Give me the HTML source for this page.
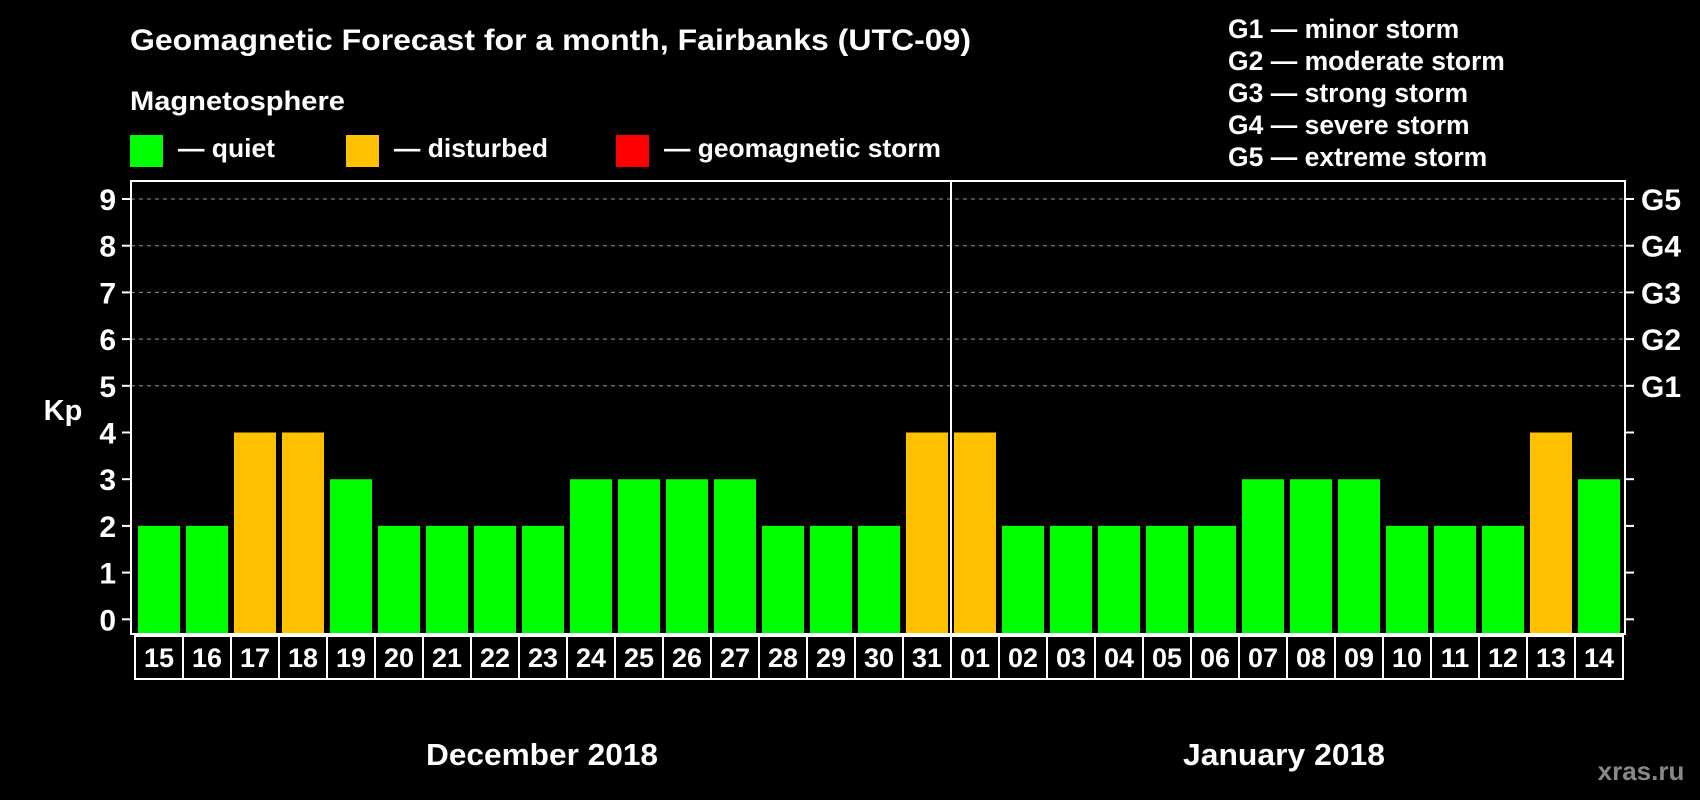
<!DOCTYPE html>
<html><head><meta charset="utf-8"><style>
html,body{margin:0;padding:0;background:#000;}
svg{display:block;font-family:"Liberation Sans",Arial,sans-serif;font-weight:bold;}
</style></head><body>
<svg id="chart" width="1700" height="800" viewBox="0 0 1700 800">
<rect x="0" y="0" width="1700" height="800" fill="#000"/>
<text x="130" y="50" fill="#fff" font-size="30" textLength="841" lengthAdjust="spacingAndGlyphs">Geomagnetic Forecast for a month, Fairbanks (UTC-09)</text>
<text x="130" y="110" fill="#fff" font-size="27" textLength="215" lengthAdjust="spacingAndGlyphs">Magnetosphere</text>
<g><rect x="130" y="135" width="33" height="32" fill="#00ff00"/><text x="178" y="157" fill="#fff" font-size="26" textLength="97" lengthAdjust="spacingAndGlyphs">— quiet</text></g>
<g><rect x="346" y="135" width="33" height="32" fill="#ffc000"/><text x="394" y="157" fill="#fff" font-size="26" textLength="154" lengthAdjust="spacingAndGlyphs">— disturbed</text></g>
<g><rect x="616" y="135" width="33" height="32" fill="#ff0000"/><text x="664" y="157" fill="#fff" font-size="26" textLength="277" lengthAdjust="spacingAndGlyphs">— geomagnetic storm</text></g>
<g fill="#fff" font-size="26.5">
<text x="1228" y="38">G1 — minor storm</text>
<text x="1228" y="70">G2 — moderate storm</text>
<text x="1228" y="102">G3 — strong storm</text>
<text x="1228" y="134">G4 — severe storm</text>
<text x="1228" y="166">G5 — extreme storm</text>
</g>
<text x="63" y="420" fill="#fff" font-size="29" text-anchor="middle">Kp</text>
<g id="grid"></g>
<g id="bars"></g>
<g id="axes"></g>
<g id="dates"></g>
<text x="542" y="765" fill="#fff" font-size="31" text-anchor="middle" textLength="232" lengthAdjust="spacingAndGlyphs">December 2018</text>
<text x="1284" y="765" fill="#fff" font-size="31" text-anchor="middle" textLength="202" lengthAdjust="spacingAndGlyphs">January 2018</text>
<text x="1641" y="780" fill="#888" font-size="26" text-anchor="middle">xras.ru</text>
</svg>
<script>
const days = ["15","16","17","18","19","20","21","22","23","24","25","26","27","28","29","30","31","01","02","03","04","05","06","07","08","09","10","11","12","13","14"];
const kpValues = [2,2,4,4,3,2,2,2,2,3,3,3,3,2,2,2,4,4,2,2,2,2,2,3,3,3,2,2,2,4,3];
const yTicks = [0,1,2,3,4,5,6,7,8,9];
const gLabels = ["G1","G2","G3","G4","G5"];
const gLevels = [5,6,7,8,9];

const NS = "http://www.w3.org/2000/svg";
const L = 131, R = 1625, T = 181, B = 634;
const slot = 48, barW = 42, x0 = 138;
function yS(v){ return 619.3 - v * 46.7; }
function xS(i){ return x0 + i * slot; }
function mk(tag, attrs, parent){ const e = document.createElementNS(NS, tag); for (const k in attrs) e.setAttribute(k, attrs[k]); parent.appendChild(e); return e; }
const grid = document.getElementById('grid'), bars = document.getElementById('bars'), axes = document.getElementById('axes'), dates = document.getElementById('dates');

gLevels.forEach((v, i) => {
  const l = mk('line', {x1: L, x2: R, y1: yS(v), y2: yS(v), stroke: '#999', 'stroke-width': 1, 'stroke-dasharray': '4,4'}, grid);
  
  
  const t = mk('text', {x: 1641, y: yS(v) + 11, fill: '#fff', 'font-size': 30}, axes);
  t.textContent = gLabels[i];
  
  
});

kpValues.forEach((v, i) => {
  const c = v >= 5 ? '#ff0000' : (v >= 4 ? '#ffc000' : '#00ff00');
  const r = mk('rect', {x: xS(i), y: yS(v), width: barW, height: B - yS(v), fill: c}, bars);
  
  
});

const frame = mk('rect', {x: L, y: T, width: R - L, height: B - T, fill: 'none', stroke: '#fff', 'stroke-width': 2}, axes);


const divX = xS(17) - (slot - barW) / 2;
const div = mk('line', {x1: divX, x2: divX, y1: T, y2: B, stroke: '#fff', 'stroke-width': 2}, axes);



yTicks.forEach(v => {
  mk('line', {x1: L - 9, x2: L, y1: yS(v), y2: yS(v), stroke: '#fff', 'stroke-width': 2}, axes);
  mk('line', {x1: R, x2: R + 9, y1: yS(v), y2: yS(v), stroke: '#fff', 'stroke-width': 2}, axes);
  const t = mk('text', {x: 116, y: yS(v) + 11, fill: '#fff', 'font-size': 30, 'text-anchor': 'end'}, axes);
  t.textContent = v;
  
  
});

days.forEach((d, i) => {
  const cx = 135 + i * 48;
  const r = mk('rect', {x: cx, y: 636, width: 48, height: 43, fill: '#000', stroke: '#fff', 'stroke-width': 2}, dates);
  
  
  const t = mk('text', {x: cx + 24, y: 667, fill: '#fff', 'font-size': 27, 'text-anchor': 'middle'}, dates);
  t.textContent = d;
  
  
});
</script>
</body></html>
